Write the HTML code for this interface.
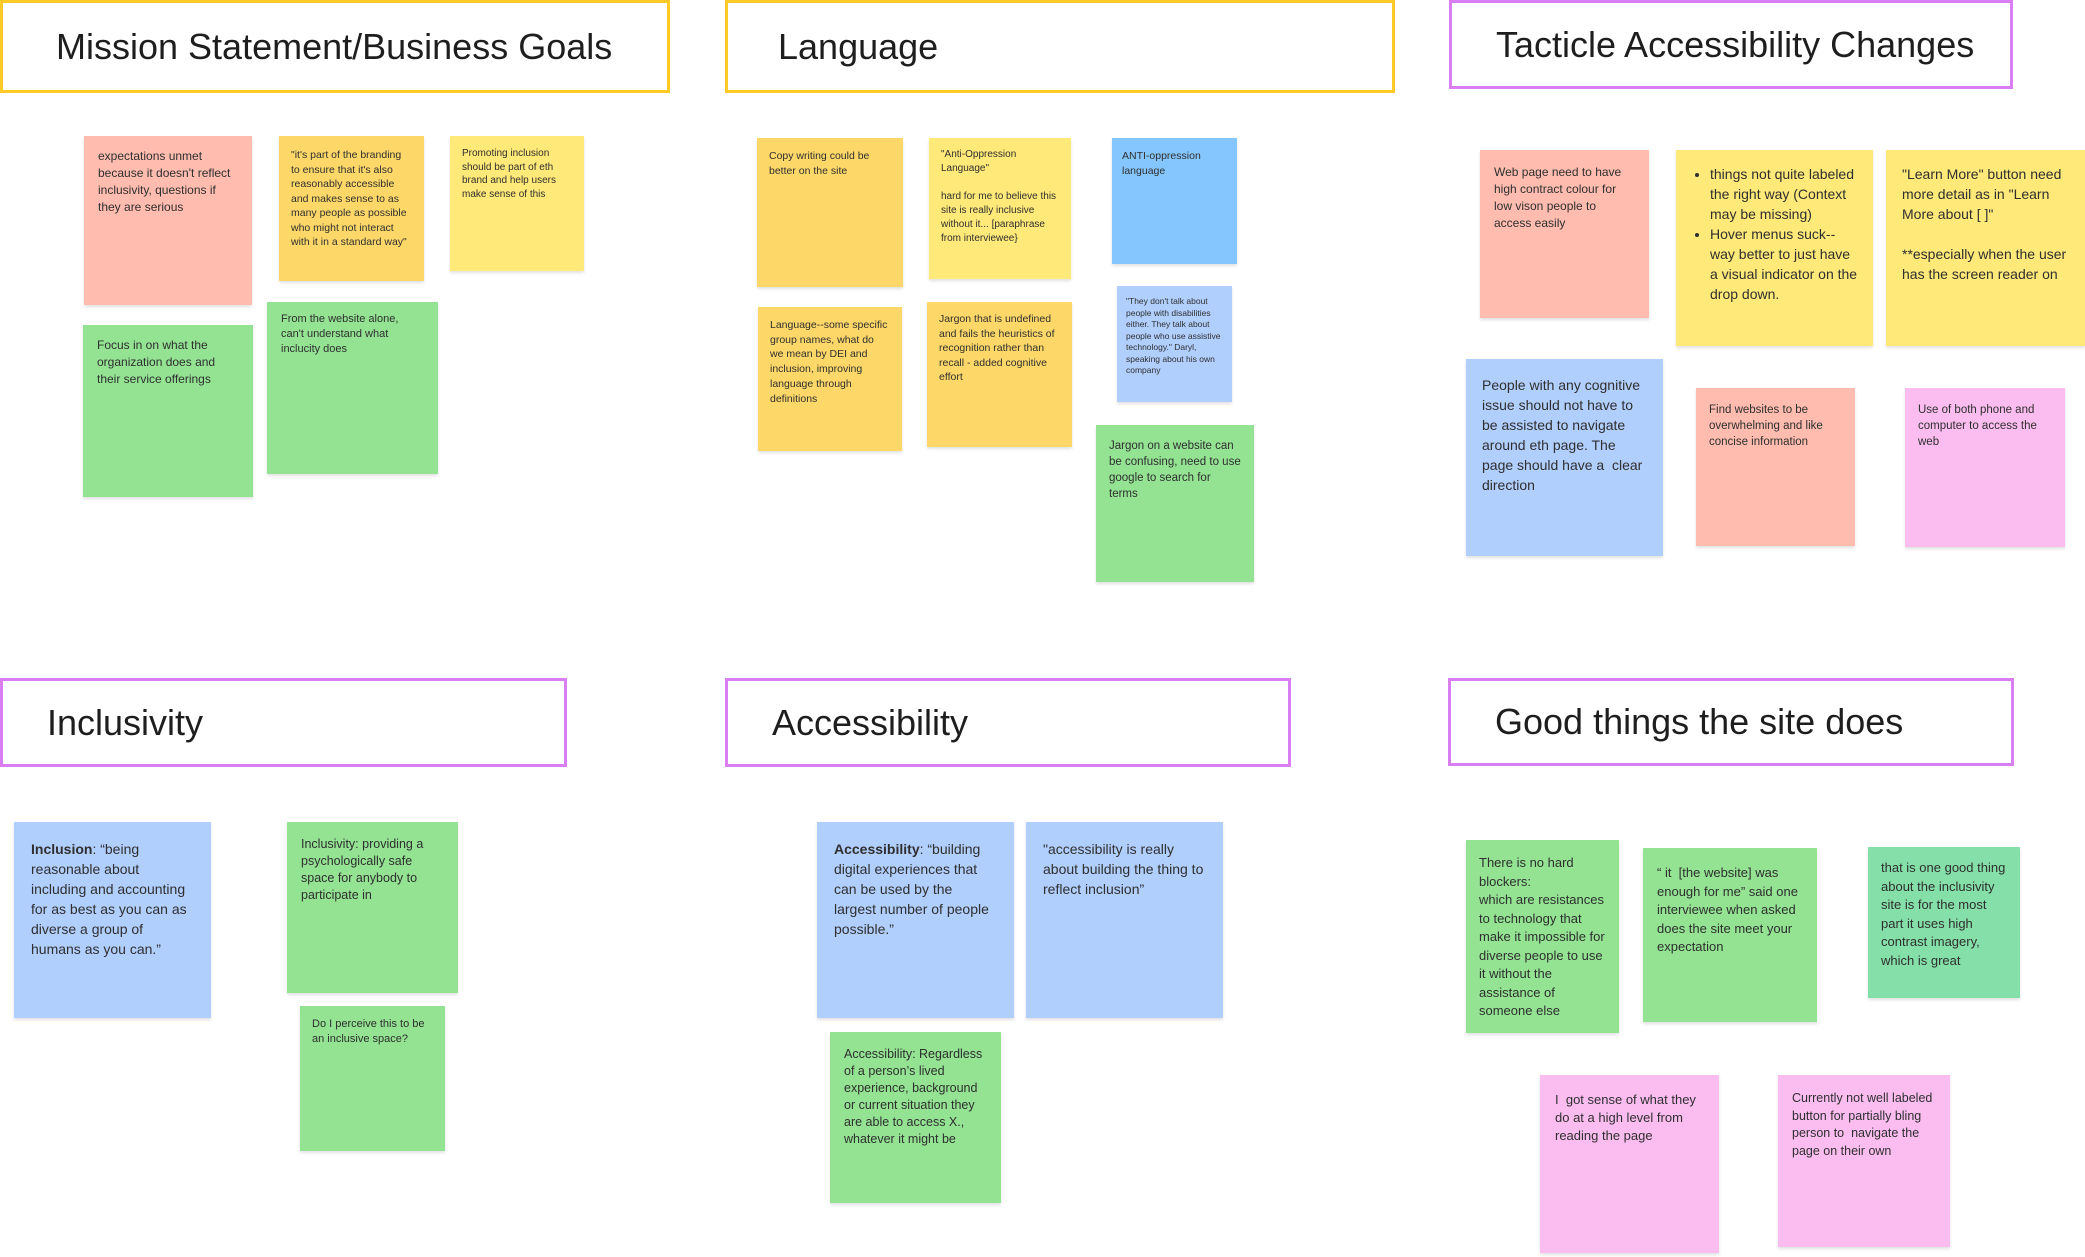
<!DOCTYPE html>
<html><head><meta charset="utf-8"><style>
body{margin:0;width:2085px;height:1257px;background:#fff;position:relative;overflow:hidden;font-family:"Liberation Sans",sans-serif;color:#2f2f2f}
.h{position:absolute;box-sizing:border-box;background:#fff;font-size:36px;color:#1e1e1e;display:flex;align-items:center}
.y{border:3px solid #ffc928}.p{border:3px solid #d97ef5}
.s{position:absolute;box-sizing:border-box;box-shadow:0 2px 3px rgba(0,0,0,.12)}
.pk{background:#ffbcaf}.or{background:#fdd868}.yl{background:#ffe978}.gr{background:#93e393}.bl{background:#b1cffd}.bb{background:#84c6fd}.mg{background:#fbbdf0}.tg{background:#84dfa8}
ul{margin:0;padding-left:20px}
</style></head><body>
<div class="h y" style="left:0;top:0;width:670px;height:93px;padding-left:53px">Mission Statement/Business Goals</div>
<div class="h y" style="left:725px;top:0;width:670px;height:93px;padding-left:50px">Language</div>
<div class="h p" style="left:1449px;top:0;width:564px;height:89px;padding-left:44px">Tacticle Accessibility Changes</div>
<div class="h p" style="left:0;top:678px;width:567px;height:89px;padding-left:44px">Inclusivity</div>
<div class="h p" style="left:725px;top:678px;width:566px;height:89px;padding-left:44px">Accessibility</div>
<div class="h p" style="left:1448px;top:678px;width:566px;height:88px;padding-left:44px">Good things the site does</div>

<div class="s pk" style="left:84px;top:136px;width:168px;height:169px;padding:12px 14px;font-size:12px;line-height:17px">expectations unmet because it doesn't reflect inclusivity, questions if they are serious</div>
<div class="s or" style="left:279px;top:136px;width:145px;height:145px;padding:12px 12px;font-size:10.5px;line-height:14.5px">"it's part of the branding to ensure that it's also reasonably accessible and makes sense to as many people as possible who might not interact with it in a standard way"</div>
<div class="s yl" style="left:450px;top:136px;width:134px;height:135px;padding:11px 12px;font-size:10px;line-height:13.5px">Promoting inclusion should be part of eth brand and help users make sense of this</div>
<div class="s gr" style="left:83px;top:325px;width:170px;height:172px;padding:12px 14px;font-size:12px;line-height:17px">Focus in on what the organization does and their service offerings</div>
<div class="s gr" style="left:267px;top:302px;width:171px;height:172px;padding:10px 14px;font-size:11px;line-height:15px">From the website alone, can't understand what inclucity does</div>

<div class="s or" style="left:757px;top:138px;width:146px;height:149px;padding:11px 12px;font-size:10.5px;line-height:14.5px">Copy writing could be better on the site</div>
<div class="s yl" style="left:929px;top:138px;width:142px;height:141px;padding:10px 12px;font-size:10px;line-height:14px">"Anti-Oppression Language"<br><br>hard for me to believe this site is really inclusive without it... [paraphrase from interviewee}</div>
<div class="s bb" style="left:1112px;top:138px;width:125px;height:126px;padding:11px 10px;font-size:10.5px;line-height:15px">ANTI-oppression language</div>
<div class="s or" style="left:758px;top:307px;width:144px;height:144px;padding:11px 12px;font-size:10.5px;line-height:14.7px">Language--some specific group names, what do we mean by DEI and inclusion, improving language through definitions</div>
<div class="s or" style="left:927px;top:302px;width:145px;height:145px;padding:10px 12px;font-size:10.5px;line-height:14.5px">Jargon that is undefined and fails the heuristics of recognition rather than recall - added cognitive effort</div>
<div class="s bl" style="left:1117px;top:286px;width:115px;height:116px;padding:10px 9px;font-size:8.5px;line-height:11.5px">"They don't talk about people with disabilities either. They talk about people who use assistive technology." Daryl, speaking about his own company</div>
<div class="s gr" style="left:1096px;top:425px;width:158px;height:157px;padding:13px 13px;font-size:11.5px;line-height:16px">Jargon on a website can be confusing, need to use google to search for terms</div>

<div class="s pk" style="left:1480px;top:150px;width:169px;height:168px;padding:14px 14px;font-size:12px;line-height:17px">Web page need to have high contract colour for low vison people to access easily</div>
<div class="s yl" style="left:1676px;top:150px;width:197px;height:196px;padding:14px 14px;font-size:14px;line-height:20px"><ul><li>things not quite labeled the right way (Context may be missing)</li><li>Hover menus suck-- way better to just have a visual indicator on the drop down.</li></ul></div>
<div class="s yl" style="left:1886px;top:150px;width:199px;height:196px;padding:14px 16px;font-size:14px;line-height:20px">"Learn More" button need more detail as in "Learn More about [ ]"<br><br>**especially when the user has the screen reader on</div>
<div class="s bl" style="left:1466px;top:359px;width:197px;height:197px;padding:16px 16px;font-size:14px;line-height:20px">People with any cognitive issue should not have to be assisted to navigate around eth page. The page should have a &nbsp;clear direction</div>
<div class="s pk" style="left:1696px;top:388px;width:159px;height:158px;padding:14px 13px;font-size:11.5px;line-height:16px">Find websites to be overwhelming and like concise information</div>
<div class="s mg" style="left:1905px;top:388px;width:160px;height:159px;padding:14px 13px;font-size:11.5px;line-height:16px">Use of both phone and computer to access the web</div>

<div class="s bl" style="left:14px;top:822px;width:197px;height:196px;padding:17px 17px;font-size:14px;line-height:20px"><b>Inclusion</b>: “being reasonable about including and accounting for as best as you can as diverse a group of humans as you can.”</div>
<div class="s gr" style="left:287px;top:822px;width:171px;height:171px;padding:14px 14px;font-size:12.5px;line-height:17px">Inclusivity: providing a psychologically safe space for anybody to participate in</div>
<div class="s gr" style="left:300px;top:1006px;width:145px;height:145px;padding:11px 12px;font-size:11px;line-height:14.5px">Do I perceive this to be an inclusive space?</div>

<div class="s bl" style="left:817px;top:822px;width:197px;height:196px;padding:17px 17px;font-size:14px;line-height:20px"><b>Accessibility</b>: “building digital experiences that can be used by the largest number of people possible.”</div>
<div class="s bl" style="left:1026px;top:822px;width:197px;height:196px;padding:17px 17px;font-size:14px;line-height:20px">"accessibility is really about building the thing to reflect inclusion”</div>
<div class="s gr" style="left:830px;top:1032px;width:171px;height:171px;padding:14px 14px;font-size:12.5px;line-height:17px">Accessibility: Regardless of a person’s lived experience, background or current situation they are able to access X., whatever it might be</div>

<div class="s gr" style="left:1466px;top:840px;width:153px;height:193px;padding:14px 13px;font-size:13px;line-height:18.5px">There is no hard blockers:<br>which are resistances to technology that make it impossible for diverse people to use it without the assistance of someone else</div>
<div class="s gr" style="left:1643px;top:848px;width:174px;height:174px;padding:16px 14px;font-size:13px;line-height:18.5px">“ it &nbsp;[the website] was enough for me” said one interviewee when asked does the site meet your expectation</div>
<div class="s tg" style="left:1868px;top:847px;width:152px;height:151px;padding:12px 13px;font-size:13px;line-height:18.5px">that is one good thing about the inclusivity site is for the most part it uses high contrast imagery, which is great</div>
<div class="s mg" style="left:1540px;top:1075px;width:179px;height:178px;padding:16px 15px;font-size:13px;line-height:18px">I &nbsp;got sense of what they do at a high level from reading the page</div>
<div class="s mg" style="left:1778px;top:1075px;width:172px;height:172px;padding:15px 14px;font-size:12.5px;line-height:17.5px">Currently not well labeled button for partially bling person to &nbsp;navigate the page on their own</div>
</body></html>
